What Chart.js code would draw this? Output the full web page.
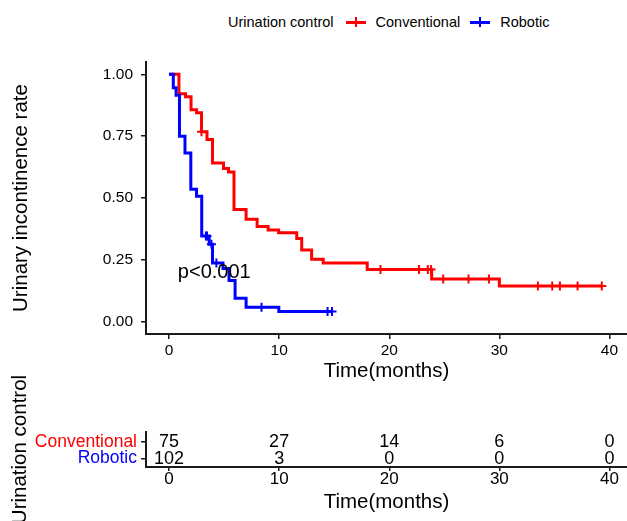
<!DOCTYPE html>
<html><head><meta charset="utf-8">
<script src="https://cdn.jsdelivr.net/npm/chart.js@4.4.1/dist/chart.umd.min.js"></script>
<style>
html,body{margin:0;padding:0;background:#fff;}
body{width:627px;height:521px;position:relative;overflow:hidden;font-family:"Liberation Sans",Arial,Helvetica,sans-serif;}
#c1{position:absolute;left:0;top:0;}
#c2{position:absolute;left:0;top:360px;}
#legend{position:absolute;left:228px;top:13px;height:18px;display:flex;align-items:center;font-size:14.5px;color:#000;white-space:nowrap;}
.sym{position:relative;width:20px;height:12px;display:inline-block;}
.sym .h{position:absolute;left:0;right:0;top:4.5px;height:3px;}
.sym .v{position:absolute;left:9px;width:2px;top:1px;height:10px;}
</style></head>
<body>
<div id="legend"></div>
<canvas id="c1" width="627" height="388"></canvas>
<canvas id="c2" width="627" height="161"></canvas>
<script>
// ---------- data ----------
const legendTitle = 'Urination control';
const seriesNames = ['Conventional', 'Robotic'];
const seriesColors = ['#FF0000', '#0000FF'];

const convTimes = [0, 0.9, 1.5, 2.0, 2.5, 2.95, 3.45, 3.95, 4.95, 5.4, 5.9, 7.0, 8.0, 9.0, 9.95, 11.6, 12.05, 12.95, 14.0, 18.0, 23.85, 30.0, 39.3];
const convSurv  = [1, 0.922, 0.909, 0.857, 0.845, 0.768, 0.737, 0.642, 0.619, 0.605, 0.453, 0.414, 0.385, 0.371, 0.359, 0.336, 0.290, 0.252, 0.237, 0.211, 0.172, 0.144, 0.144];
const convCensorTimes = [2.95, 19.2, 22.7, 23.5, 23.8, 24.9, 27.2, 29.05, 33.5, 34.8, 35.5, 37.1, 39.3];
const convCensorSurv  = [0.768, 0.211, 0.211, 0.211, 0.211, 0.172, 0.172, 0.172, 0.144, 0.144, 0.144, 0.144, 0.144];

const robTimes = [0, 0.39, 0.64, 0.95, 1.45, 1.98, 2.5, 2.97, 3.65, 3.95, 4.9, 5.45, 6.0, 7.0, 9.97, 14.8];
const robSurv  = [1, 0.946, 0.916, 0.750, 0.682, 0.535, 0.507, 0.346, 0.313, 0.237, 0.215, 0.166, 0.095, 0.058, 0.041, 0.041];
const robCensorTimes = [3.35, 3.45, 3.85, 4.3, 8.4, 14.4, 14.8];
const robCensorSurv  = [0.346, 0.346, 0.313, 0.237, 0.058, 0.041, 0.041];

const xTicks = [0, 10, 20, 30, 40];
const yTicks = [0, 0.25, 0.5, 0.75, 1];
const pvalText = 'p<0.001';

const riskTimes = [0, 10, 20, 30, 40];
const riskConventional = [75, 27, 14, 6, 0];
const riskRobotic = [102, 3, 0, 0, 0];

const xTitle = 'Time(months)';
const yTitle = 'Urinary incontinence rate';

// ---------- helpers ----------
const FONT = '"Liberation Sans", Arial, sans-serif';
const INK = '#1a1a1a';
const toPts = (xs, ys) => xs.map((t, i) => ({x: t, y: ys[i]}));
const fixedTicks = vals => scale => { scale.ticks = vals.map(v => ({value: v})); };
const fitW = w => s => { s.width = w; s.paddingTop = 0; s.paddingBottom = 0; };
const fitH = h => s => { s.height = h; s.paddingLeft = 0; s.paddingRight = 0; };

// ---------- legend (HTML) ----------
(function () {
  const lg = document.getElementById('legend');
  const t = document.createElement('span'); t.textContent = legendTitle; lg.appendChild(t);
  seriesNames.forEach((n, i) => {
    const s = document.createElement('span'); s.className = 'sym';
    s.style.marginLeft = i === 0 ? '12px' : '10px';
    s.innerHTML = '<span class="h" style="background:' + seriesColors[i] + '"></span><span class="v" style="background:' + seriesColors[i] + '"></span>';
    lg.appendChild(s);
    const l = document.createElement('span'); l.textContent = n; l.style.marginLeft = '10px'; lg.appendChild(l);
  });
})();

// ---------- main KM chart ----------
const pvalPlugin = {
  id: 'pval',
  afterDatasetsDraw(chart) {
    const {ctx, scales: {x, y}} = chart;
    ctx.save();
    ctx.font = '20px ' + FONT;
    ctx.fillStyle = '#000';
    ctx.textAlign = 'left';
    ctx.textBaseline = 'middle';
    ctx.fillText(pvalText, x.getPixelForValue(0.8), y.getPixelForValue(0.2));
    ctx.restore();
  }
};

new Chart(document.getElementById('c1'), {
  type: 'line',
  data: {
    datasets: [
      {label: seriesNames[0], data: toPts(convTimes, convSurv), stepped: 'before', borderColor: seriesColors[0], borderWidth: 3, pointRadius: 0, fill: false, order: 4},
      {label: seriesNames[1], data: toPts(robTimes, robSurv), stepped: 'before', borderColor: seriesColors[1], borderWidth: 3, pointRadius: 0, fill: false, order: 3},
      {type: 'scatter', label: seriesNames[0] + ' censored', data: toPts(convCensorTimes, convCensorSurv), showLine: false, pointStyle: 'cross', pointRadius: 4.5, borderWidth: 2, borderColor: seriesColors[0], backgroundColor: seriesColors[0], order: 2},
      {type: 'scatter', label: seriesNames[1] + ' censored', data: toPts(robCensorTimes, robCensorSurv), showLine: false, pointStyle: 'cross', pointRadius: 4.5, borderWidth: 2, borderColor: seriesColors[1], backgroundColor: seriesColors[1], order: 1}
    ]
  },
  options: {
    responsive: false, animation: false, devicePixelRatio: 1,
    layout: {autoPadding: false, padding: {top: 62, right: 0, bottom: 0, left: 0}},
    plugins: {legend: {display: false}, tooltip: {enabled: false}},
    scales: {
      x: {
        type: 'linear', min: -2.09, max: 41.59,
        afterBuildTicks: fixedTicks(xTicks),
        afterFit: fitH(54),
        grid: {display: true, drawOnChartArea: false, drawTicks: true, tickLength: 5, color: INK, lineWidth: 1.5},
        border: {display: true, color: INK, width: 2},
        ticks: {color: '#000', padding: 3.5, font: {family: FONT, size: 15.5, lineHeight: 1}, maxRotation: 0},
        title: {display: true, text: xTitle, color: '#000', font: {family: FONT, size: 20.5}, padding: {top: 0, bottom: 4.5}}
      },
      y: {
        type: 'linear', min: -0.05, max: 1.05,
        afterBuildTicks: fixedTicks(yTicks),
        afterFit: fitW(146),
        grid: {display: true, drawOnChartArea: false, drawTicks: true, tickLength: 5, color: INK, lineWidth: 1.5},
        border: {display: true, color: INK, width: 2},
        ticks: {color: '#000', padding: 8, font: {family: FONT, size: 15.5}, callback: v => Number(v).toFixed(2)},
        title: {display: true, text: yTitle, color: '#000', font: {family: FONT, size: 20.5}, padding: {top: 9, bottom: 0}}
      }
    }
  },
  plugins: [pvalPlugin]
});

// ---------- risk table ----------
const riskRows = [riskConventional, riskRobotic];
const rowValue = i => riskRows.length - i; // Conventional on top
const riskPlugin = {
  id: 'risk',
  afterDatasetsDraw(chart) {
    const {ctx, scales: {x, y}} = chart;
    ctx.save();
    ctx.font = '18px ' + FONT;
    ctx.fillStyle = '#000';
    ctx.textAlign = 'center';
    ctx.textBaseline = 'middle';
    riskRows.forEach((row, i) => {
      row.forEach((n, j) => {
        ctx.fillText(String(n), x.getPixelForValue(riskTimes[j]), y.getPixelForValue(rowValue(i)));
      });
    });
    ctx.restore();
  }
};

new Chart(document.getElementById('c2'), {
  type: 'scatter',
  data: {datasets: []},
  options: {
    responsive: false, animation: false, devicePixelRatio: 1,
    layout: {autoPadding: false, padding: {top: 72, right: 0, bottom: 0, left: 0}},
    plugins: {legend: {display: false}, tooltip: {enabled: false}},
    scales: {
      x: {
        type: 'linear', min: -2.09, max: 41.59,
        afterBuildTicks: fixedTicks(riskTimes),
        afterFit: fitH(54),
        grid: {display: true, drawOnChartArea: false, drawTicks: true, tickLength: 4, color: INK, lineWidth: 1.5},
        border: {display: true, color: INK, width: 2},
        ticks: {color: '#000', padding: 0, font: {family: FONT, size: 17, lineHeight: 1}, maxRotation: 0},
        title: {display: true, text: xTitle, color: '#000', font: {family: FONT, size: 20.5}, padding: {top: 0, bottom: 6.5}}
      },
      y: {
        type: 'linear', min: 0.5, max: 2.6,
        afterBuildTicks: fixedTicks(seriesNames.map((_, i) => rowValue(i))),
        afterFit: fitW(146),
        grid: {display: true, drawOnChartArea: false, drawTicks: true, tickLength: 5, color: INK, lineWidth: 1.5},
        border: {display: true, color: INK, width: 2},
        ticks: {
          padding: 4, font: {family: FONT, size: 17.5},
          callback: v => seriesNames[riskRows.length - v],
          color: c => seriesColors[riskRows.length - (c.tick ? c.tick.value : 1)]
        },
        title: {display: true, text: legendTitle, color: '#000', font: {family: FONT, size: 20.5}, padding: {top: 8, bottom: 0}}
      }
    }
  },
  plugins: [riskPlugin]
});
</script>
</body></html>
